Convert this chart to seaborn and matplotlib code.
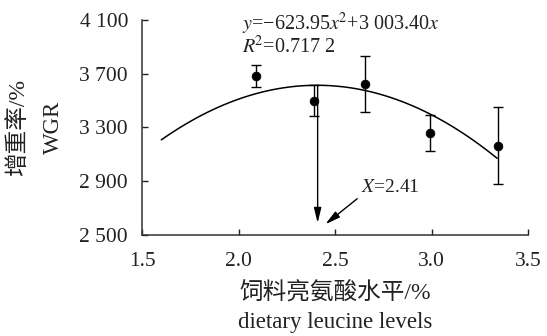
import numpy as np
import pandas as pd
import seaborn as sns
import matplotlib
matplotlib.use("Agg")
import matplotlib.pyplot as plt

# Dietary leucine level (%) and weight gain rate (%) with SD
leucine = [2.09, 2.39, 2.655, 2.99, 3.345]
wgr = [3683, 3500, 3626, 3259, 3165]
wgr_sd = [82, 118, 207, 132, 287]

# Quadratic fit y = a*x^2 + b*x
coef_a = -623.95
coef_b = 3003.40
r_squared = "0.717 2"
fit_range = [1.6, 3.34]
optimum_x = 2.41

x_ticks = [1.5, 2.0, 2.5, 3.0, 3.5]
y_ticks = [2500, 2900, 3300, 3700, 4100]
y_tick_labels = ["2 500", "2 900", "3 300", "3 700", "4 100"]

sns.set_style("ticks")
plt.rcParams["font.family"] = ["Liberation Serif", "Noto Sans CJK SC"]
plt.rcParams["mathtext.fontset"] = "stix"

fig = plt.figure(figsize=(5.47, 3.36), dpi=100)
ax = fig.add_axes([0.2596, 0.3006, 0.7057, 0.6399])

# fitted curve
xs = np.linspace(fit_range[0], fit_range[1], 200)
curve = pd.DataFrame({"x": xs, "y": coef_a * xs ** 2 + coef_b * xs})
sns.lineplot(data=curve, x="x", y="y", ax=ax, color="black", lw=1.1)

# observed means with error bars
obs = pd.DataFrame({"x": leucine, "y": wgr, "sd": wgr_sd})
ax.errorbar(obs["x"], obs["y"], yerr=obs["sd"], fmt="none", ecolor="black",
            elinewidth=1.0, capsize=3.5, capthick=1.0, zorder=3)
sns.scatterplot(data=obs, x="x", y="y", ax=ax, color="black", s=40,
                edgecolor="black", zorder=4)

# optimum marker arrows
peak_y = coef_a * optimum_x ** 2 + coef_b * optimum_x
ax.annotate("", xy=(optimum_x, 2590), xytext=(optimum_x, peak_y),
            arrowprops=dict(arrowstyle="-|>,head_length=0.9,head_width=0.22",
                            color="black", lw=1.0, shrinkA=0, shrinkB=0))
ax.annotate("", xy=(2.45, 2580), xytext=(2.615, 2770),
            arrowprops=dict(arrowstyle="-|>,head_length=0.9,head_width=0.22",
                            color="black", lw=1.0, shrinkA=0, shrinkB=0))
ax.text(2.635, 2855, r"$\it{X}$=2.41", fontsize=14, va="center", ha="left",
        color="#222222")

eq_text = (r"$\it{y}$=−623.95$\it{x}$$^{2}$+3 003.40$\it{x}$" "\n"
           r"$\it{R}$$^{2}$=" + r_squared)
ax.text(2.02, 3990, eq_text, fontsize=14.5, va="center", ha="left",
        linespacing=0.95, color="#222222")

ax.set_xlim(1.5, 3.5)
ax.set_ylim(2500, 4100)
ax.set_xticks(x_ticks)
ax.set_xticklabels([f"{t:.1f}" for t in x_ticks])
ax.set_yticks(y_ticks)
ax.set_yticklabels(y_tick_labels)
ax.tick_params(axis="both", direction="in", length=4, width=1, labelsize=15.5,
               colors="#222222")
ax.tick_params(axis="y", pad=10)
ax.tick_params(axis="x", pad=12)
for side in ["top", "right"]:
    ax.spines[side].set_visible(False)
for side in ["left", "bottom"]:
    ax.spines[side].set_color("#333333")
    ax.spines[side].set_linewidth(1.1)

ax.set_xlabel("")
ax.set_ylabel("")

ax.text(0.5, -0.27, "饲料亮氨酸水平/%", transform=ax.transAxes, fontsize=17,
        ha="center", va="center", color="#222222")
ax.text(0.5, -0.409, "dietary leucine levels", transform=ax.transAxes,
        fontsize=16.5, ha="center", va="center", color="#222222")
ax.text(-0.322, 0.5, "增重率/%", transform=ax.transAxes, fontsize=17,
        rotation=90, ha="center", va="center", color="#222222")
ax.text(-0.23, 0.5, "WGR", transform=ax.transAxes, fontsize=16.5,
        rotation=90, ha="center", va="center", color="#222222")

fig.savefig("out.png", dpi=100)
